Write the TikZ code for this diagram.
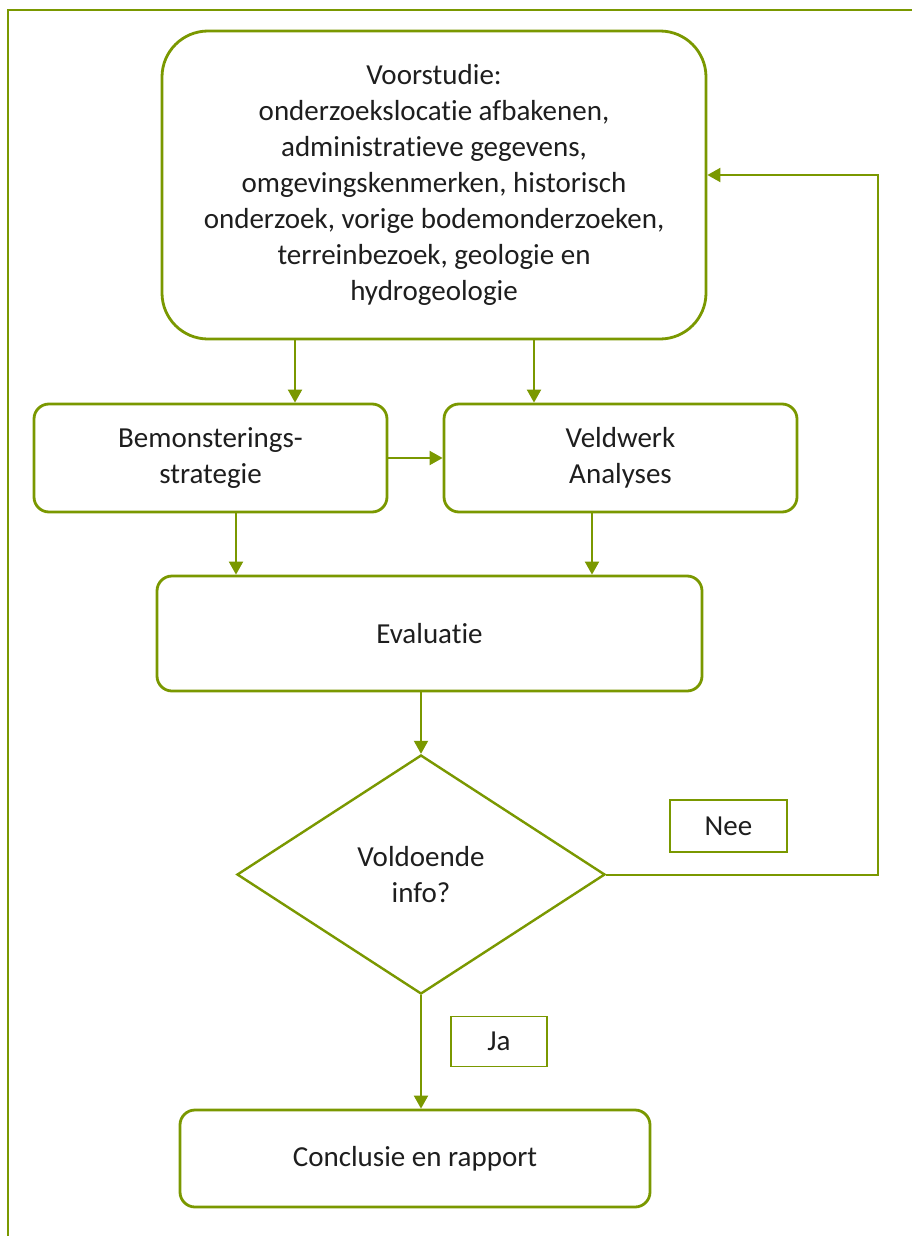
\documentclass[tikz,border=0pt]{standalone}
\usepackage{fontspec}
\setmainfont{Carlito}[Ligatures={NoCommon}]
\usetikzlibrary{arrows.meta,shapes.geometric}
\definecolor{olv}{RGB}{122,152,0}
\definecolor{txt}{RGB}{30,30,30}
\begin{document}
\begin{tikzpicture}[x=1pt,y=-1pt,
  font=\fontsize{29}{36}\selectfont, text=txt,
  box/.style={draw=olv, line width=2.8pt, rounded corners=15pt, align=center, inner sep=0pt},
  lbl/.style={draw=olv, line width=1.4pt, align=center, inner sep=0pt},
  arr/.style={draw=olv, line width=2pt, -{Triangle[length=13pt,width=14pt]}}]
\useasboundingbox (0,0) rectangle (912,1236);
\fill[white] (0,0) rectangle (912,1236);
% outer frame
\draw[olv, line width=2.2pt] (915,10) -- (8,10) -- (8,1240);
% nodes
\node[box, rounded corners=46pt, minimum width=544pt, minimum height=308pt] (voor) at (434,185)
  {Voorstudie:\\onderzoekslocatie afbakenen,\\administratieve gegevens,\\omgevingskenmerken, historisch\\onderzoek, vorige bodemonderzoeken,\\terreinbezoek, geologie en\\hydrogeologie};
\node[box, minimum width=353pt, minimum height=108pt] (bem) at (210.5,458) {Bemonsterings-\\strategie};
\node[box, minimum width=353pt, minimum height=108pt] (veld) at (620.5,458) {Veldwerk\\Analyses};
\node[box, minimum width=545pt, minimum height=115pt] (eval) at (429.5,633.5) {Evaluatie};
\node[draw=olv, line width=2.4pt, diamond, minimum width=368pt, minimum height=239pt, inner sep=0pt, align=center] (dia) at (421,874.5) {Voldoende\\info?};
\node[lbl, minimum width=117pt, minimum height=52pt] (nee) at (728.5,826) {Nee};
\node[lbl, minimum width=96pt, minimum height=50pt] (ja) at (499,1041.5) {Ja};
\node[box, minimum width=470pt, minimum height=97pt] (concl) at (415,1158.5) {Conclusie en rapport};
% helper coordinates
\coordinate (xa) at (295,0);
\coordinate (xb) at (534,0);
\coordinate (xc) at (236,0);
\coordinate (xd) at (592,0);
\coordinate (xe) at (421,0);
\coordinate (fb) at (878,175);
% connectors
\draw[arr] (voor.south -| xa) -- (bem.north -| xa);
\draw[arr] (voor.south -| xb) -- (veld.north -| xb);
\draw[arr] (bem.east) -- (veld.west);
\draw[arr] (bem.south -| xc) -- (eval.north -| xc);
\draw[arr] (veld.south -| xd) -- (eval.north -| xd);
\draw[arr] (eval.south -| xe) -- (dia.north);
\draw[arr] (dia.south) -- (concl.north -| xe);
\draw[arr, rounded corners=0pt] (dia.east) -| (fb) -- (voor.east |- fb);
\end{tikzpicture}
\end{document}
